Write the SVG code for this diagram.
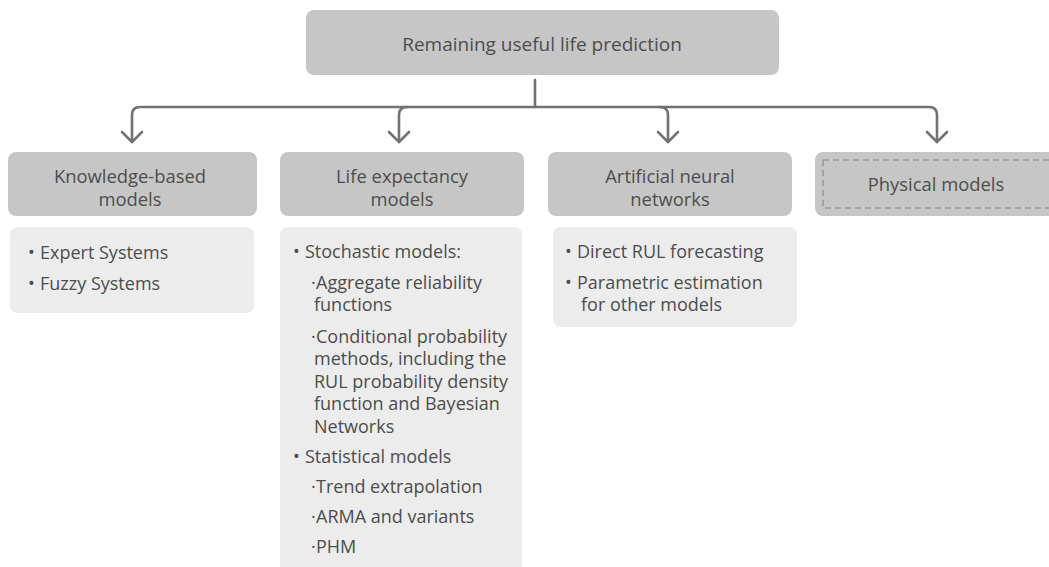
<svg xmlns="http://www.w3.org/2000/svg" width="1049" height="567" viewBox="0 0 1049 567">
  <style>
    .head { fill: #c6c6c6; }
    .body { fill: #ececec; }
    .t { font-family: "Open Sans", "Noto Sans", "Liberation Sans", sans-serif; fill: #4d4d4d; }
    .top { font-size: 19px; text-anchor: middle; }
    .h { font-size: 18.4px; text-anchor: middle; }
    .b { font-size: 18px; }
    .wire { fill: none; stroke: #727272; stroke-width: 2.6; stroke-linecap: round; stroke-linejoin: round; }
  </style>
  <rect width="1049" height="567" fill="#ffffff"/>

  <!-- root -->
  <g id="root">
    <rect class="head" x="306" y="10" width="473" height="65" rx="8"/>
    <text class="t top" x="542" y="51">Remaining useful life prediction</text>
  </g>

  <!-- connectors -->
  <g id="connectors" class="wire">
    <path d="M535,80 V107"/>
    <path d="M132,142 V115 Q132,107 140,107 H929 Q937,107 937,115 V142"/>
    <path d="M407,107 Q399,107 399,115 V142"/>
    <path d="M660,107 Q668,107 668,115 V142"/>
    <path d="M122,132 L132,142 L142,132"/>
    <path d="M389,132 L399,142 L409,132"/>
    <path d="M658,132 L668,142 L678,132"/>
    <path d="M927,132 L937,142 L947,132"/>
  </g>

  <!-- knowledge-based -->
  <g id="knowledge">
    <rect class="head" x="8" y="152" width="249" height="64" rx="8"/>
    <text class="t h" x="130" y="183">Knowledge-based</text>
    <text class="t h" x="130" y="206">models</text>
    <rect class="body" x="10" y="227" width="244" height="86" rx="8"/>
    <text class="t b" x="28" y="259">•</text>
    <text class="t b" x="40" y="259">Expert Systems</text>
    <text class="t b" x="28" y="290">•</text>
    <text class="t b" x="40" y="290">Fuzzy Systems</text>
  </g>

  <!-- life expectancy -->
  <g id="life">
    <rect class="head" x="280" y="152" width="244" height="64" rx="8"/>
    <text class="t h" x="402" y="183">Life expectancy</text>
    <text class="t h" x="402" y="206">models</text>
    <rect class="body" x="280" y="227" width="242" height="352" rx="8"/>
    <text class="t b" x="293" y="258">•</text>
    <text class="t b" x="305" y="258">Stochastic models:</text>
    <text class="t b" x="311" y="289">·</text>
    <text class="t b" x="316" y="289">Aggregate reliability</text>
    <text class="t b" x="314" y="311">functions</text>
    <text class="t b" x="311" y="343">·</text>
    <text class="t b" x="316" y="343">Conditional probability</text>
    <text class="t b" x="314" y="365">methods, including the</text>
    <text class="t b" x="314" y="388">RUL probability density</text>
    <text class="t b" x="314" y="410">function and Bayesian</text>
    <text class="t b" x="314" y="433">Networks</text>
    <text class="t b" x="293" y="463">•</text>
    <text class="t b" x="305" y="463">Statistical models</text>
    <text class="t b" x="311" y="493">·</text>
    <text class="t b" x="316" y="493">Trend extrapolation</text>
    <text class="t b" x="311" y="523">·</text>
    <text class="t b" x="316" y="523">ARMA and variants</text>
    <text class="t b" x="311" y="553">·</text>
    <text class="t b" x="316" y="553">PHM</text>
  </g>

  <!-- neural networks -->
  <g id="ann">
    <rect class="head" x="548" y="152" width="244" height="64" rx="8"/>
    <text class="t h" x="670" y="183">Artificial neural</text>
    <text class="t h" x="670" y="206">networks</text>
    <rect class="body" x="553" y="227" width="244" height="100" rx="8"/>
    <text class="t b" x="565" y="258">•</text>
    <text class="t b" x="577" y="258">Direct RUL forecasting</text>
    <text class="t b" x="565" y="289">•</text>
    <text class="t b" x="577" y="289">Parametric estimation</text>
    <text class="t b" x="581" y="311">for other models</text>
  </g>

  <!-- physical -->
  <g id="physical">
    <rect class="head" x="815" y="152" width="250" height="64" rx="8"/>
    <rect x="823" y="160" width="240" height="48" fill="none" stroke="#9a9a9a" stroke-width="1.6" stroke-dasharray="6 4"/>
    <text class="t h" x="936" y="191">Physical models</text>
  </g>
</svg>
